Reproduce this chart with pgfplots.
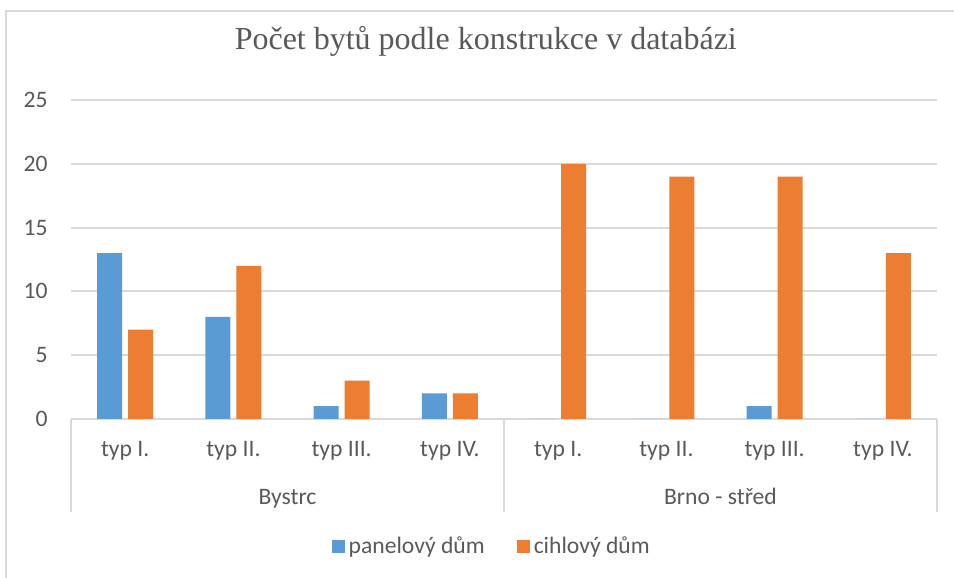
\documentclass[border=0pt]{standalone}
\usepackage{fontspec}
\setmainfont{Carlito}
\newfontfamily\titlefont{Liberation Serif}
\usepackage{pgfplots}
\pgfplotsset{compat=1.18}
\definecolor{panel}{HTML}{5B9BD5}
\definecolor{cihla}{HTML}{ED7D31}
\definecolor{txt}{HTML}{595959}
\definecolor{gridc}{HTML}{D9D9D9}

\begin{document}
\begin{tikzpicture}
\useasboundingbox (0,0) rectangle (477pt,289pt);
% chart frame (only top and left edge visible)
\draw[gridc, line width=0.8pt] (3pt,0) -- (3pt,283.5pt) -- (477pt,283.5pt);
\begin{axis}[
  at={(35.5pt,79.5pt)}, anchor=south west,
  scale only axis, width=433pt, height=159.5pt,
  xmin=-0.5, xmax=7.5, ymin=0, ymax=25,
  ytick={0,5,...,25},
  xtick={0,...,7},
  xticklabels={typ I., typ II., typ III., typ IV., typ I., typ II., typ III., typ IV.},
  axis line style={draw=none},
  major tick length=0pt,
  ymajorgrids, grid style={gridc, line width=0.9pt},
  ybar=3pt, bar width=12.5pt,
  font=\fontsize{11.8}{14}\selectfont,
  tick label style={text=txt, font=\fontsize{11.8}{14}\selectfont},
  /pgf/number format/assume math mode=true,
  xticklabel style={anchor=base, yshift=-19pt, inner sep=0pt},
  yticklabel style={anchor=east, inner sep=0pt, xshift=-11.5pt},
  clip=false,
  legend style={at={(0.487,-0.401)}, anchor=center, draw=none, fill=none,
    legend columns=2, text=txt, font=\fontsize{11.8}{14}\selectfont,
    /tikz/every even column/.append style={column sep=14pt}},
  title={\titlefont Počet bytů podle konstrukce v databázi},
  title style={at={(0.479,1.122)}, anchor=base, text=txt,
    font=\fontsize{16}{19}\selectfont, inner sep=0pt},
]
\addplot[fill=panel, draw=none,
  legend image code/.code={\fill[panel] (0pt,-3.25pt) rectangle (6.5pt,3.25pt);}]
  coordinates {(0,13) (1,8) (2,1) (3,2) (4,0) (5,0) (6,1) (7,0)};
\addlegendentry{panelový dům}
\addplot[fill=cihla, draw=none,
  legend image code/.code={\fill[cihla] (0pt,-3.25pt) rectangle (6.5pt,3.25pt);}]
  coordinates {(0,7) (1,12) (2,3) (3,2) (4,20) (5,19) (6,19) (7,13)};
\addlegendentry{cihlový dům}

% category group separators and labels
\draw[gridc, line width=0.9pt] (axis cs:-0.5,0) -- ([yshift=-46.5pt]axis cs:-0.5,0);
\draw[gridc, line width=0.9pt] (axis cs:3.5,0) -- ([yshift=-46.5pt]axis cs:3.5,0);
\draw[gridc, line width=0.9pt] (axis cs:7.5,0) -- ([yshift=-46.5pt]axis cs:7.5,0);
\node[anchor=base, text=txt, inner sep=0pt] at ([yshift=-43pt]axis cs:1.5,0) {Bystrc};
\node[anchor=base, text=txt, inner sep=0pt] at ([yshift=-43pt]axis cs:5.5,0) {Brno - střed};
\end{axis}
\end{tikzpicture}
\end{document}
